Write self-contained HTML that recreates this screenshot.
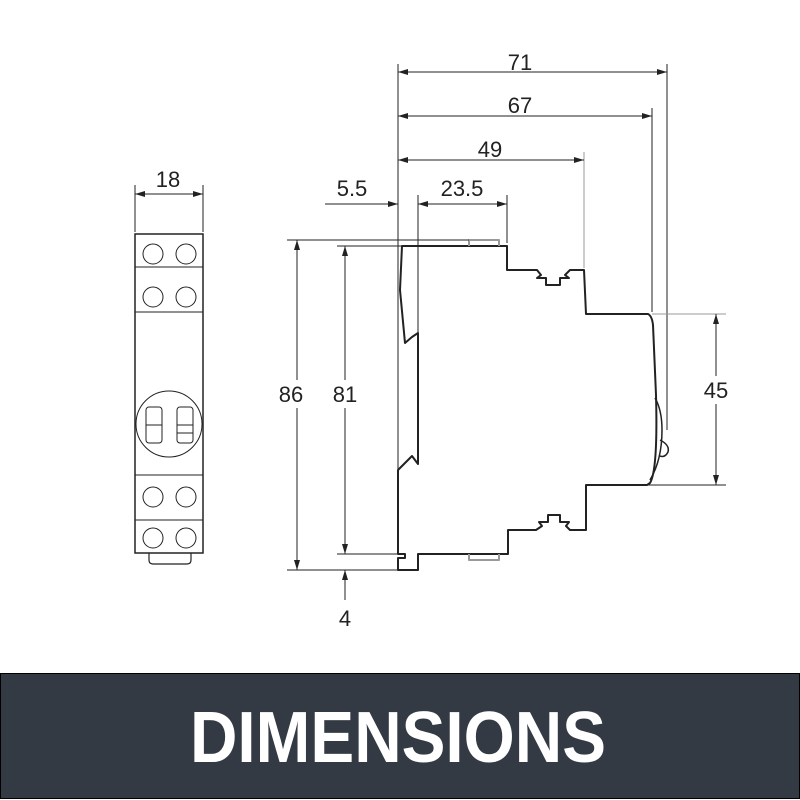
<!DOCTYPE html>
<html><head><style>html,body{margin:0;padding:0;background:#fff}svg{display:block}</style></head>
<body>
<svg width="800" height="800" viewBox="0 0 800 800" xmlns="http://www.w3.org/2000/svg" font-family="Liberation Sans, sans-serif">
<defs>
<marker id="a" viewBox="0 0 10 6" refX="10" refY="3" markerWidth="16" markerHeight="6" markerUnits="userSpaceOnUse" orient="auto-start-reverse"><path d="M0,0L10,3L0,6z" fill="#222"/></marker>
</defs>
<rect width="800" height="800" fill="#fff"/>
<!-- Left view -->
<g fill="none" stroke="#222" stroke-width="1.5">
<rect x="135" y="234" width="68" height="319"/>
<line x1="135" y1="267" x2="203" y2="267" stroke-width="1"/>
<line x1="135" y1="312" x2="203" y2="312" stroke-width="1"/>
<line x1="135" y1="475" x2="203" y2="475" stroke-width="1"/>
<line x1="135" y1="520" x2="203" y2="520" stroke-width="1"/>
<g stroke-width="1">
<circle cx="153" cy="254" r="10"/><circle cx="186" cy="254" r="10"/>
<circle cx="153" cy="297" r="10"/><circle cx="186" cy="297" r="10"/>
<circle cx="153" cy="497" r="10"/><circle cx="186" cy="497" r="10"/>
<circle cx="153" cy="538" r="10"/><circle cx="186" cy="538" r="10"/>
<circle cx="169" cy="424" r="33"/>
<rect x="146" y="407" width="16" height="36" rx="3"/>
<rect x="177" y="407" width="16" height="36" rx="3"/>
<line x1="146" y1="425" x2="162" y2="425"/>
<line x1="177" y1="425" x2="193" y2="425"/><line x1="177" y1="433" x2="193" y2="433"/>
</g>
<path d="M149,553 V560 Q149,564 153,564 H187 Q191,564 191,560 V553" stroke-width="1.2"/>
</g>
<g stroke="#222" stroke-width="1"><line x1="135" y1="185" x2="135" y2="232"/><line x1="203" y1="185" x2="203" y2="232"/>
<line x1="135" y1="194" x2="203" y2="194" marker-start="url(#a)" marker-end="url(#a)"/></g>
<text x="168" y="187" font-size="22" text-anchor="middle" fill="#222">18</text>

<!-- Side view body -->
<g fill="none" stroke="#222" stroke-width="2" stroke-linejoin="round">
<path d="M402,246 H507 V270 H537 L541,275 L537,278 H546 V285 H560 V278 H569 L565,275 L570,270 H584 L586,314 H648 Q652,316 653,325 L656,395 Q658,470 650,483 L647,485 H586 V530 H570 L566,526 L569,522 H560 V515 H548 V522 H539 L542,526 L536,530 H508 V554 H418 V570 H398 V558 H405 V554 H398 V470 L412,456 L418,464 V333 L412,337 L405,343 L400,290 Z"/>
<path d="M469,246 V240 H499 V246" stroke="#999"/>
<path d="M469,554 V560 H499 V554" stroke="#999"/>
<path d="M655,398 Q662,410 662,430 Q662,460 650,480" stroke-width="1.5"/>
<path d="M660,440 Q670,445 668,452 Q665,458 660,456" stroke-width="1.5"/>
</g>
<!-- dimension lines -->
<g stroke="#222" stroke-width="1" fill="none">
<line x1="398" y1="64" x2="398" y2="470"/>
<line x1="667" y1="64" x2="667" y2="430"/>
<line x1="652" y1="108" x2="652" y2="312"/>
<line x1="584" y1="152" x2="584" y2="268" stroke="#999"/>
<line x1="418" y1="195" x2="418" y2="333"/>
<line x1="507" y1="195" x2="507" y2="243"/>
<line x1="398" y1="72" x2="667" y2="72" marker-start="url(#a)" marker-end="url(#a)"/>
<line x1="398" y1="116" x2="652" y2="116" marker-start="url(#a)" marker-end="url(#a)"/>
<line x1="398" y1="160" x2="584" y2="160" marker-start="url(#a)" marker-end="url(#a)"/>
<line x1="418" y1="204" x2="507" y2="204" marker-start="url(#a)" marker-end="url(#a)"/>
<line x1="325" y1="204" x2="398" y2="204" marker-end="url(#a)"/>
<line x1="287" y1="240" x2="469" y2="240"/>
<line x1="337" y1="246" x2="402" y2="246"/>
<line x1="337" y1="554" x2="398" y2="554"/>
<line x1="287" y1="570" x2="398" y2="570"/>
<line x1="297" y1="240" x2="297" y2="570" marker-start="url(#a)" marker-end="url(#a)"/>
<line x1="345" y1="246" x2="345" y2="554" marker-start="url(#a)" marker-end="url(#a)"/>
<line x1="345" y1="600" x2="345" y2="570" marker-end="url(#a)"/>
<line x1="652" y1="314" x2="726" y2="314" stroke="#999"/>
<line x1="647" y1="485" x2="726" y2="485"/>
<line x1="716" y1="314" x2="716" y2="485" marker-start="url(#a)" marker-end="url(#a)"/>
</g>
<g font-size="22" fill="#222" text-anchor="middle">
<text x="520" y="70">71</text>
<text x="520" y="113">67</text>
<text x="490" y="157">49</text>
<text x="462" y="196">23.5</text>
<text x="352" y="196">5.5</text>
<rect x="280" y="380" width="34" height="28" fill="#fff"/>
<text x="291" y="402">86</text>
<rect x="328" y="380" width="34" height="28" fill="#fff"/>
<text x="345" y="402">81</text>
<text x="345" y="626">4</text>
<rect x="698" y="376" width="36" height="28" fill="#fff"/>
<text x="716" y="398">45</text>
</g>
<!-- banner -->
<rect x="0.5" y="673.5" width="799" height="125" fill="#333a44" stroke="#000" stroke-width="1"/>
<text x="190" y="762" font-size="72" font-weight="bold" fill="#fff" textLength="416" lengthAdjust="spacingAndGlyphs">DIMENSIONS</text>
</svg>
</body></html>
